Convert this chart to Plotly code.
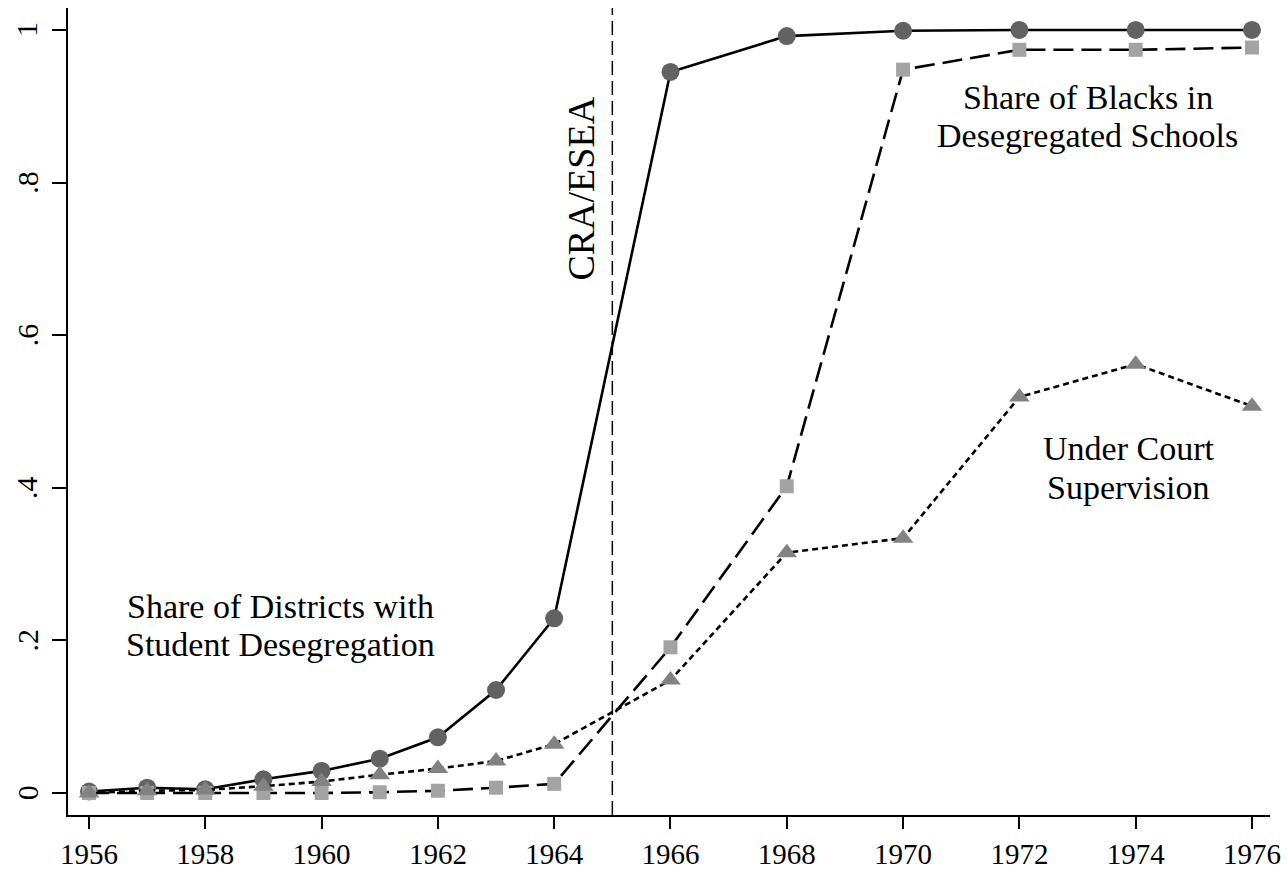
import plotly.graph_objects as go

years = [1956, 1957, 1958, 1959, 1960, 1961, 1962, 1963, 1964, 1966, 1968, 1970, 1972, 1974, 1976]
share_districts = [0.002, 0.007, 0.005, 0.018, 0.029, 0.045, 0.073, 0.135, 0.229, 0.945, 0.992, 0.999, 1.0, 1.0, 1.0]
share_blacks = [0.0, 0.0, 0.0, 0.0, 0.0, 0.001, 0.003, 0.007, 0.012, 0.191, 0.402, 0.948, 0.974, 0.974, 0.977]
court_supervision = [0.0, 0.003, 0.004, 0.009, 0.015, 0.024, 0.032, 0.042, 0.064, 0.148, 0.315, 0.334, 0.519, 0.562, 0.507]

y_tickvals = [0, 0.2, 0.4, 0.6, 0.8, 1]
y_ticktext = ["0", ".2", ".4", ".6", ".8", "1"]
x_tickvals = [1956, 1958, 1960, 1962, 1964, 1966, 1968, 1970, 1972, 1974, 1976]
event_year = 1965
event_label = "CRA/ESEA"

FONT = "Liberation Serif"

fig = go.Figure()

fig.add_trace(go.Scatter(
    x=years, y=share_districts, mode="lines+markers",
    line=dict(color="black", width=2.6),
    marker=dict(symbol="circle", size=18, color="#626262"),
    name="Share of Districts with Student Desegregation"))

fig.add_trace(go.Scatter(
    x=years, y=share_blacks, mode="lines+markers",
    line=dict(color="black", width=2.6, dash="20px,8px"),
    marker=dict(symbol="square", size=14, color="#a3a3a3"),
    name="Share of Blacks in Desegregated Schools"))

fig.add_trace(go.Scatter(
    x=years, y=court_supervision, mode="lines+markers",
    line=dict(color="black", width=2.6, dash="6px,4px"),
    marker=dict(symbol="triangle-up", size=18, color="#828282"),
    name="Under Court Supervision"))

fig.add_shape(type="line", x0=event_year, x1=event_year, xref="x",
              y0=0, y1=1, yref="paper",
              line=dict(color="black", width=1.5, dash="14px,6px"))

ann_font = dict(family=FONT, size=34, color="black")
labels = [
    (1973.18, 0.911, "Share of Blacks in"),
    (1973.18, 0.862, "Desegregated Schools"),
    (1973.87, 0.451, "Under Court"),
    (1973.87, 0.401, "Supervision"),
    (1959.30, 0.244, "Share of Districts with"),
    (1959.30, 0.194, "Student Desegregation"),
]
for lx, ly, lt in labels:
    fig.add_annotation(x=lx, y=ly, text=lt, showarrow=False, font=ann_font)

fig.add_annotation(x=1964.46, y=0.792, text=event_label, textangle=-90,
                   showarrow=False, font=dict(family=FONT, size=38, color="black"))

# y tick labels (rotated, placed left of the ticks)
for tv, tt in zip(y_tickvals, y_ticktext):
    fig.add_annotation(x=-0.034, xref="paper", y=tv, yref="y", text=tt, textangle=-90,
                       showarrow=False, xanchor="center", yanchor="middle",
                       font=dict(family=FONT, size=30, color="black"))

axis_common = dict(showgrid=False, zeroline=False, showline=True, linecolor="black", linewidth=1.5,
                   ticks="outside", tickwidth=1.5, tickcolor="black", automargin=False)

fig.update_layout(
    width=1287, height=870,
    margin=dict(l=68, r=17, t=8, b=55),
    plot_bgcolor="white", paper_bgcolor="white",
    showlegend=False,
    font=dict(family=FONT, size=28, color="black"),
    xaxis=dict(range=[1955.639, 1976.31], tickvals=x_tickvals, ticklen=12,
               tickfont=dict(family=FONT, size=29, color="black"), **axis_common),
    yaxis=dict(range=[-0.0288, 1.0288], tickvals=y_tickvals, ticklen=14,
               showticklabels=False, **axis_common),
)

fig.write_html("out.html", config={"displayModeBar": False},
               post_script="document.body.style.margin='0px';")
